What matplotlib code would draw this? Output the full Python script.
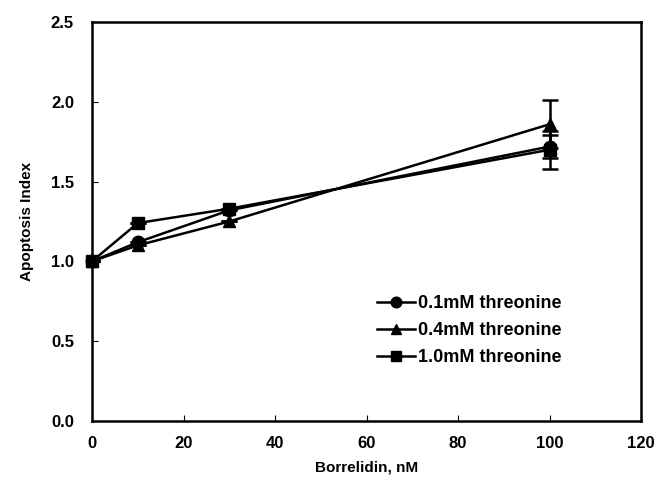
import matplotlib
matplotlib.use('Agg')
from matplotlib import pyplot as plt

plt.rcParams['font.family'] = ['Liberation Sans', 'DejaVu Sans']
plt.rcParams['font.weight'] = 'bold'

dose = [0, 10, 30, 100]
thr_01 = [1.00, 1.12, 1.32, 1.72]
thr_04 = [1.00, 1.10, 1.25, 1.86]
thr_10 = [1.00, 1.24, 1.33, 1.70]
err_01 = [0, 0, 0, 0.07]
err_04 = [0, 0, 0, 0.15]
err_10 = [0, 0, 0, 0.12]
labels = ['0.1mM threonine', '0.4mM threonine', '1.0mM threonine']

fig = plt.figure(figsize=(6.57, 4.82), dpi=100)
ax = fig.add_axes([0.140, 0.127, 0.836, 0.827])

series = [(thr_01, err_01, 'o'), (thr_04, err_04, '^'), (thr_10, err_10, 's')]
handles = []
for (vals, errs, mk), lab in zip(series, labels):
    c = ax.errorbar(dose, vals, yerr=errs, color='black', marker=mk, markersize=9,
                    linewidth=1.8, elinewidth=1.8, capsize=6, capthick=1.8, label=lab)
    c[0].set_clip_on(False)
    handles.append(c[0])

ax.set_xlim(0, 120)
ax.set_ylim(0, 2.5)
ax.set_xticks(range(0, 121, 20))
ax.set_yticks([0, 0.5, 1.0, 1.5, 2.0, 2.5])
ax.set_yticklabels(['0.0', '0.5', '1.0', '1.5', '2.0', '2.5'])
ax.tick_params(direction='in', length=4, labelsize=12)
ax.tick_params(axis='y', pad=13)
ax.tick_params(axis='x', pad=11)
for s in ax.spines.values():
    s.set_linewidth(1.8)

ax.set_xlabel('Borrelidin, nM', fontsize=11, fontweight='bold', labelpad=7)
ax.set_ylabel('Apoptosis Index', fontsize=11, fontweight='bold', labelpad=12)

ax.legend(handles, labels, loc='lower right', bbox_to_anchor=(0.885, 0.097), frameon=False,
          prop={'size': 13, 'weight': 'bold'}, handlelength=2.1, handletextpad=0.2,
          labelspacing=0.55, markerscale=0.85)

plt.savefig('out.png', dpi=100)
